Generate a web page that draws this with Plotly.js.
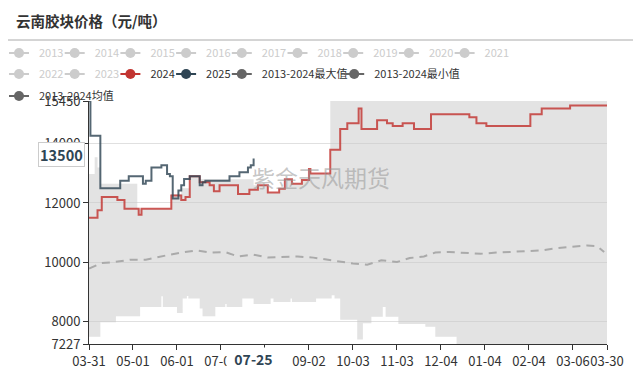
<!DOCTYPE html>
<html>
<head>
<meta charset="utf-8">
<script src="https://cdn.plot.ly/plotly-3.0.1.min.js"></script>
<style>html,body{margin:0;padding:0;background:#fff;}#chart{width:643px;height:370px;}</style>
</head>
<body>
<div id="chart"></div>
<script>
// ---- categories: one per calendar day, 03-31 .. 03-30 (Feb with 29 days) ----
const categories = [];
(function(){ const d = new Date(Date.UTC(2023, 2, 31)); for (let i = 0; i < 366; i++) { const m = String(d.getUTCMonth()+1).padStart(2,'0'); const dd = String(d.getUTCDate()).padStart(2,'0'); categories.push(m + '-' + dd); d.setUTCDate(d.getUTCDate()+1); } })();

const tickLabels = ['03-31','05-01','06-01','07-02','08-02','09-02','10-03','11-03','12-04','01-04','02-04','03-06','03-30'];
const yTicks = [7227, 8000, 10000, 12000, 14000, 15450];

// ---- 2024 (step changes) ----
const d2024 = ['03-31','04-06','04-09','04-20','04-25','05-05','05-07','05-28','06-04','06-07','06-10','06-17','06-24','06-27','07-01','07-14','07-22','07-28','08-04','08-12','08-16','08-21','08-28','09-02','09-03','09-17','09-24','09-29','10-07','10-09','10-20','10-27','10-31','11-07','11-15','11-27','12-24','12-29','01-05','02-05','02-13','03-04','03-30'];
const v2024 = [11500,11750,12200,12100,11800,11600,11800,12250,12100,12200,12900,12700,12600,12400,12600,12300,12450,12600,12350,12480,12800,12650,12780,13150,13000,13800,14500,14700,15200,14500,14800,14700,14600,14700,14500,15000,14900,14700,14600,15000,15200,15300,15300];

// ---- 2025 (step changes) ----
const d2025 = ['03-31','04-01','04-08','04-22','04-28','05-08','05-10','05-14','05-21','05-25','05-27','05-29','06-02','06-04','06-06','06-10','06-17','06-19','06-21','07-08','07-15','07-21','07-23','07-25'];
const v2025 = [15450,14270,12500,12750,12900,12650,12750,13200,13280,12980,12900,12150,12420,12600,12810,12900,12600,12700,12750,12900,13040,13200,13280,13500];

// ---- 2013-2024 max ----
const dMax = ['03-31','04-04','04-06','04-08','05-04','05-28','06-04','06-10','06-17','07-25','07-28','08-04','08-12','08-16','08-21','08-28','09-02','09-03','09-17','03-30'];
const vMax = [12980,13550,13200,12650,11800,12300,12500,12900,12800,12600,12600,12350,12480,12800,12650,12780,13150,13000,15450,15450];

// ---- 2013-2024 min ----
const dMin = ['03-31','04-08','04-19','05-06','05-21','05-22','06-01','06-05','06-08','06-09','06-17','06-19','06-28','07-05','07-06','07-17','07-25','08-06','08-08','08-20','08-21','09-07','09-18','09-20','09-24','10-06','10-10','10-16','10-24','10-26','11-04','11-23','11-30','12-15','03-30'];
const vMin = [7470,7960,8170,8480,8840,8480,8280,8765,8850,8765,8430,8170,8480,8580,8480,8765,8580,8765,8650,8765,8650,8765,8876,8765,8050,7380,7930,8145,8480,8145,7900,7810,7470,7227,7227];

// ---- 2013-2024 average ----
const dAvg = ['03-31','04-09','04-18','04-29','05-10','05-18','05-27','06-04','06-15','06-25','07-05','07-14','07-25','08-04','08-15','08-25','09-05','09-15','09-24','10-03','10-13','10-23','11-03','11-12','11-22','11-30','12-10','12-21','01-01','01-12','01-23','02-03','02-13','02-24','03-05','03-16','03-23','03-28'];
const vAvg = [9780,9966,10000,10080,10080,10170,10250,10320,10395,10320,10340,10190,10250,10150,10170,10190,10150,10080,10030,9950,9910,10060,10000,10135,10190,10320,10340,10300,10280,10320,10340,10370,10395,10470,10505,10560,10540,10340];

const legendRow1 = ['2013','2014','2015','2016','2017','2018','2019','2020','2021'];
const legendRow2 = ['2022','2023','2024','2025','2013-2024最大值','2013-2024最小值'];
const legendRow3 = ['2013-2024均值'];

const FONT = '"Noto Sans CJK SC", "Noto Sans", sans-serif';
const RED = '#c23531', DARK = '#2f4554', GREYL = '#666', OFF = '#ccc';
const ICON_DASH = '0px,5px,20px,20px';

const traces = [
  {x: dMin, y: vMin, type: 'scatter', mode: 'lines', line: {width: 0, shape: 'hv', color: 'rgba(0,0,0,0)'}, showlegend: false, hoverinfo: 'skip'},
  {x: dMax, y: vMax, type: 'scatter', mode: 'lines', line: {width: 0, shape: 'hv', color: 'rgba(0,0,0,0)'}, fill: 'tonexty', fillcolor: 'rgba(200,200,200,0.51)', showlegend: false, hoverinfo: 'skip'},
  {x: dAvg, y: vAvg, type: 'scatter', mode: 'lines', line: {width: 2, dash: '8px,6px', color: '#aaa'}, showlegend: false, hoverinfo: 'skip'},
  {x: d2024, y: v2024, type: 'scatter', mode: 'lines', line: {width: 2, shape: 'hv', color: RED}, opacity: 0.82, showlegend: false, hoverinfo: 'skip'},
  {x: d2025, y: v2025, type: 'scatter', mode: 'lines', line: {width: 2, shape: 'hv', color: DARK}, opacity: 0.82, showlegend: false, hoverinfo: 'skip'}
];

function legendTrace(name, color, legendId, width, textColor) {
  return {x: [null], y: [null], type: 'scatter', mode: 'lines+markers',
    name: textColor ? '<span style="color:' + textColor + '">' + name + '</span>' : name,
    legend: legendId, legendwidth: width,
    line: {color: color, width: 2, dash: ICON_DASH}, marker: {color: color, size: 10}, hoverinfo: 'skip'};
}
legendRow1.forEach((n, i) => traces.push(legendTrace(n, OFF, 'legend', i === legendRow1.length - 1 ? 40 : 10.7)));
const row2Colors = [OFF, OFF, RED, DARK, GREYL, GREYL];
const row2Widths = [10.7, 10.7, 10.7, 10.7, 67.4, 90];
legendRow2.forEach((n, i) => traces.push(legendTrace(n, row2Colors[i], 'legend2', row2Widths[i], i < 2 ? OFF : null)));
legendRow3.forEach(n => traces.push(legendTrace(n, GREYL, 'legend3', 90)));

const PL = 89, PW = 518, PT = 101, PH = 243;
const lx = (-1 - PL) / PW;
function legendY(centerPx) { return 1 + (PT - (centerPx - 14.5)) / PH; }
const baseLegend = {orientation: 'h', x: lx, xanchor: 'left', yanchor: 'top', entrywidthmode: 'pixels', bgcolor: 'rgba(0,0,0,0)', borderwidth: 0, itemclick: false, itemdoubleclick: false, traceorder: 'normal'};

const layout = {
  width: 643, height: 370,
  margin: {l: PL, r: 643 - PL - PW, t: PT, b: 370 - PT - PH, autoexpand: false},
  paper_bgcolor: '#fff', plot_bgcolor: '#fff',
  font: {family: FONT, color: '#333', size: 12},
  hovermode: false,
  title: {text: '<b>云南胶块价格（元/吨）</b>', x: 16/643, xanchor: 'left', xref: 'container', y: 1 - 22/370, yref: 'container', yanchor: 'middle', font: {family: FONT, size: 14.5, color: '#333'}},
  legend: Object.assign({}, baseLegend, {y: legendY(53), entrywidth: 10.7, font: {family: FONT, size: 11, color: OFF}}),
  legend2: Object.assign({}, baseLegend, {y: legendY(74), entrywidth: 10.7, font: {family: FONT, size: 11, color: '#333'}}),
  legend3: Object.assign({}, baseLegend, {y: legendY(96), entrywidth: 90, font: {family: FONT, size: 11, color: '#333'}}),
  xaxis: {
    type: 'category', categoryorder: 'array', categoryarray: categories,
    range: [0, categories.length - 1], autorange: false,
    tickmode: 'array', tickvals: tickLabels, ticktext: tickLabels,
    showgrid: false, zeroline: false,
    showline: true, linecolor: '#333', linewidth: 1,
    ticks: 'outside', ticklen: 5, tickcolor: '#333', tickwidth: 1,
    tickfont: {family: FONT, size: 13, color: '#333'}, tickangle: 0
  },
  yaxis: {
    range: [7227, 15450], autorange: false,
    tickmode: 'array', tickvals: yTicks, ticktext: yTicks.map(String),
    showgrid: true, gridcolor: '#e0e0e0', gridwidth: 1, zeroline: false,
    showline: true, linecolor: '#333', linewidth: 1,
    ticks: 'outside', ticklen: 5, tickcolor: '#333', tickwidth: 1,
    tickfont: {family: FONT, size: 13, color: '#333'}
  },
  shapes: [
    {type: 'line', xref: 'paper', yref: 'paper', x0: (8 - PL)/PW, x1: (633 - PL)/PW, y0: 1 + (PT - 40)/PH, y1: 1 + (PT - 40)/PH, line: {color: '#aaa', width: 1}}
  ],
  annotations: [
    {text: '紫金天风期货', xref: 'paper', yref: 'paper', x: (321 - PL)/PW, y: (PT + PH - 177)/PH, showarrow: false, xanchor: 'center', yanchor: 'middle', font: {family: FONT, size: 23, color: 'rgba(150,150,150,0.55)'}},
    {text: '<b>13500</b>', xref: 'paper', yref: 'y', x: (61 - PL)/PW, y: 13500, yshift: 4, showarrow: false, xanchor: 'center', yanchor: 'middle', bgcolor: '#fff', bordercolor: '#ccc', borderwidth: 1, borderpad: 1, font: {family: FONT, size: 14.5, color: DARK}},
    {text: '<b>\u00a0\u00a007-25\u00a0\u00a0\u00a0</b>', xref: 'x', yref: 'paper', x: '07-25', y: -15/PH, xshift: 1, showarrow: false, xanchor: 'center', yanchor: 'middle', bgcolor: '#fff', borderpad: 1, font: {family: FONT, size: 14, color: DARK}}
  ]
};

Plotly.newPlot('chart', traces, layout, {staticPlot: true, displayModeBar: false});
</script>
</body>
</html>
